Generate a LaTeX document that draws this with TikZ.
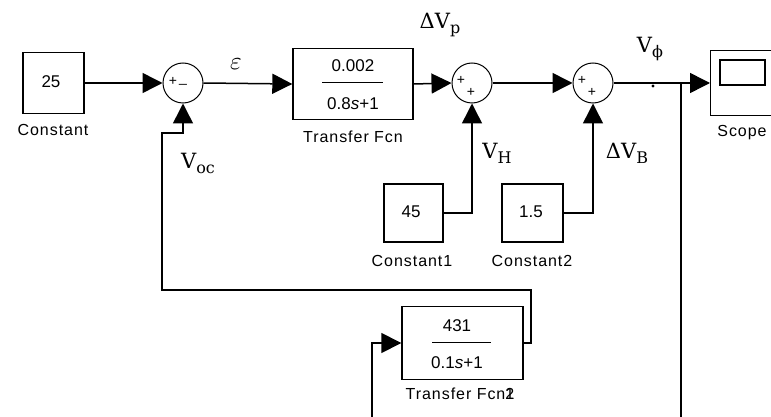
\documentclass[tikz,border=0pt]{standalone}
\usepackage{fontspec}
\newfontfamily\blkfont{Liberation Sans}
\newfontfamily\lblfont[LetterSpace=6]{Liberation Sans}
\newfontfamily\labfont{DejaVu Serif}
\newcommand{\sig}[2]{{\fontsize{21}{24}\selectfont #1}\raisebox{-5pt}{\fontsize{16}{19}\selectfont #2}}
\usetikzlibrary{arrows.meta}
\begin{document}
\begin{tikzpicture}[x=1pt,y=-1pt,
  wire/.style={line width=1.5pt},
  arr/.style={wire,-{Triangle[length=20pt,width=20pt]}},
  blk/.style={draw,line width=1.4pt,inner sep=0pt,fill=white},
  sumb/.style={draw,circle,line width=1pt,minimum size=40pt,inner sep=0pt},
  btxt/.style={font=\blkfont\fontsize{17}{20}\selectfont,inner sep=0pt},
  ltxt/.style={font=\lblfont\fontsize{16}{19}\selectfont,inner sep=0pt},
  sgn/.style={font=\blkfont\fontsize{14}{16}\selectfont,inner sep=0pt},
  mlab/.style={font=\labfont,inner sep=0pt}]
\useasboundingbox[fill=white] (0,0) rectangle (771,417);

% blocks
\node[blk,minimum width=61pt,minimum height=61pt] (c0) at (53.5,83) {};
\node[btxt] (c0t) at (51,82) {25};
\node[ltxt] (c0l) at (53,130) {Constant};

\node[sumb] (s1) at (183,83) {};
\node[sgn] (s1p) at (173,81) {+};
\node[sgn] (s1m) at (183,84) {\_};

\node[blk,minimum width=120pt,minimum height=71pt] (tf1) at (353,84) {};
\node[btxt] (tf1n) at (353,66) {0.002};
\draw[line width=1pt] (322,83) -- (383,83);
\node[btxt] (tf1d) at (353,104) {0.8\textit{s}+1};
\node[ltxt] (tf1l) at (353,137) {Transfer Fcn};

\node[sumb] (s2) at (472,83) {};
\node[sgn] (s2a) at (461,80) {+};
\node[sgn] (s2b) at (471,92) {+};

\node[sumb] (s3) at (593,83) {};
\node[sgn] (s3a) at (582,80) {+};
\node[sgn] (s3b) at (592,92) {+};

\node[blk,minimum width=63pt,minimum height=65pt,anchor=west] (sc) at (710,83) {};
\draw[line width=1.4pt] (720,60) rectangle (765,85);
\node[ltxt] (scl) at (742,133) {Scope};

\node[blk,minimum width=59pt,minimum height=58pt] (c1) at (413.5,213) {};
\node[btxt] (c1t) at (411,212) {45};
\node[ltxt] (c1l) at (412,261) {Constant1};

\node[blk,minimum width=61pt,minimum height=58pt] (c2) at (532.5,213) {};
\node[btxt] (c2t) at (531,212) {1.5};
\node[ltxt] (c2l) at (532,261) {Constant2};

\node[blk,minimum width=121pt,minimum height=73pt] (tf2) at (462.5,343) {};
\node[btxt] (tf2n) at (457,326) {431};
\draw[line width=1pt] (432,342) -- (491,342);
\node[btxt] (tf2d) at (457,363) {0.1\textit{s}+1};
\node[ltxt] (tf2l) at (460,394) {Transfer Fcn\rlap{1}2};

% labels
\node[inner sep=0pt] (eps) at (236,64) {\scalebox{2.5}{$\varepsilon$}};
\node[mlab] (dvp) at (440,25) {\sig{ΔV}{p}};
\node[mlab] (voc) at (198,163) {\sig{V}{oc}};
\node[mlab] (vh) at (497,153) {\sig{V}{H}};
\node[mlab] (dvb) at (627,153) {\sig{ΔV}{B}};
\node[mlab] (vphi) at (650,49) {\sig{V}{ϕ}};

% connectors
\coordinate (br) at (681,83);
\coordinate (bot1) at (681,417);
\coordinate (bot2) at (372,417);
\draw[arr] (c0.east) -- (s1.west);
\draw[arr] (s1.east) -- (tf1.west);
\draw[arr] (tf1.east) -- (s2.west);
\draw[arr] (s2.east) -- (s3.west);
\draw[arr] (s3.east) -- (sc.west);
\draw[wire] (br) -- (bot1);
\fill (653,86) circle (1.6pt);
\draw[arr] (c1.east) -| (s2.south);
\draw[arr] (c2.east) -| (s3.south);
\draw[arr] (tf2.east) -- (531,343) -- (531,290) -- (162,290) -- (162,133) -| (s1.south);
\draw[arr] (bot2) -- (372,343) -- (tf2.west);
\end{tikzpicture}
\end{document}
